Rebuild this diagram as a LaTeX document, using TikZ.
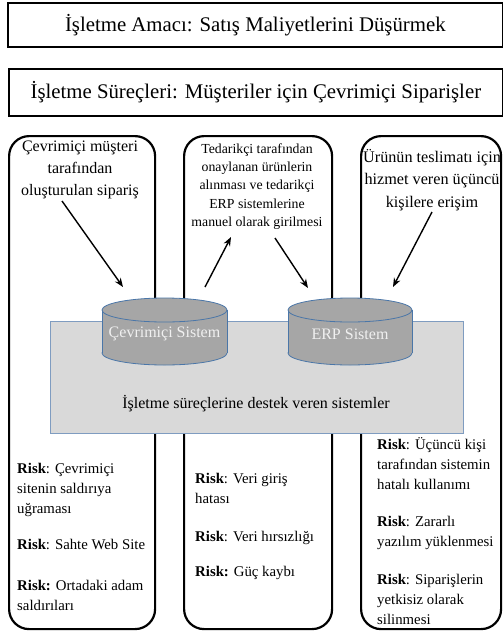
\documentclass[tikz,border=0pt]{standalone}
\usepackage{fontspec}
\setmainfont{Liberation Serif}
\usetikzlibrary{arrows.meta}
\definecolor{sysgray}{HTML}{D9D9D9}
\definecolor{sysblue}{HTML}{7F9CC0}
\definecolor{cylfill}{HTML}{A6A6A6}
\definecolor{cylblue}{HTML}{4A76A8}
\definecolor{cyltext}{HTML}{F0F0F0}
\begin{document}
\begin{tikzpicture}[x=1pt,y=-1pt,
  titlebox/.style={draw, line width=2.2pt, inner sep=0pt, anchor=north west, font=\fontsize{20.8}{24}\selectfont},
  column/.style={draw, line width=2.2pt, rounded corners=20pt, anchor=north west, minimum height=493pt, inner sep=0pt},
  support/.style={fill=sysgray, draw=sysblue, line width=0.8pt, anchor=north west, inner sep=0pt},
  cylbody/.style={fill=cylfill, draw=cylblue, line width=0.8pt},
  cyllabel/.style={text=cyltext, font=\fontsize{16}{19}\selectfont, minimum width=125pt, minimum height=65pt, inner sep=0pt},
  toptext/.style={align=center, inner sep=0pt, font=\fontsize{16}{22}\selectfont},
  smalltext/.style={align=center, inner sep=0pt, font=\fontsize{13.8}{18.3}\selectfont},
  risktext/.style={align=left, inner sep=0pt, anchor=base west, font=\fontsize{14.8}{20}\selectfont},
  arr/.style={-{Stealth[length=9pt,width=7pt]}, line width=1.4pt}
]
\useasboundingbox (0,0) rectangle (503,633);

% title boxes
\node[titlebox, minimum width=494.5pt, minimum height=44pt] (goal) at (7,2) {İşletme Amacı: Satış Maliyetlerini Düşürmek};
\node[titlebox, minimum width=493.5pt, minimum height=47pt] (process) at (8,68) {İşletme Süreçleri: Müşteriler için Çevrimiçi Siparişler};

% columns
\node[column, minimum width=146pt] (col1) at (8,135) {};
\node[column, minimum width=148pt] (col2) at (183,135) {};
\node[column, minimum width=140pt] (col3) at (360,135) {};

% supporting systems box
\node[support, minimum width=413pt, minimum height=112pt] (sys) at (50,321) {};
\node[font=\fontsize{16}{19}\selectfont, inner sep=0pt] (syslabel) at (256,404) {İşletme süreçlerine destek veren sistemler};

% cylinder 1
\filldraw[cylbody] (164.5,353) ellipse [x radius=62.5, y radius=12];
\fill[cylfill] (102,310) rectangle (227,353);
\draw[cylblue, line width=0.8pt] (102,310) -- (102,353) (227,310) -- (227,353);
\filldraw[cylbody] (164.5,310) ellipse [x radius=62.5, y radius=12];
\node[cyllabel] (cyl1) at (164.5,334) {Çevrimiçi Sistem};

% cylinder 2
\filldraw[cylbody] (350,353) ellipse [x radius=62, y radius=12];
\fill[cylfill] (288,310) rectangle (412,353);
\draw[cylblue, line width=0.8pt] (288,310) -- (288,353) (412,310) -- (412,353);
\filldraw[cylbody] (350,310) ellipse [x radius=62, y radius=12];
\node[cyllabel] (cyl2) at (350,334) {ERP Sistem};

% top texts
\node[toptext] (t1) at (80,170) {Çevrimiçi müşteri\\tarafından\\oluşturulan sipariş};
\node[smalltext] (t2) at (257,186.5) {Tedarikçi tarafından\\onaylanan ürünlerin\\alınması ve tedarikçi\\ERP sistemlerine\\manuel olarak girilmesi};
\node[toptext, font=\fontsize{16.2}{22.5}\selectfont] (t3) at (432,180) {Ürünün teslimatı için\\hizmet veren üçüncü\\kişilere erişim};

% arrow end points
\coordinate (a1s) at (62,201);
\coordinate (a1e) at (123,287);
\coordinate (a2s) at (205,287);
\coordinate (a2e) at (231,237);
\coordinate (a3s) at (275,238);
\coordinate (a3e) at (308,288);
\coordinate (a4s) at (432,212);
\coordinate (a4e) at (393,287);
\draw[arr] (a1s) -- (a1e);
\draw[arr] (a2s) -- (a2e);
\draw[arr] (a3s) -- (a3e);
\draw[arr] (a4s) -- (a4e);

% risks
\node[risktext] (r1) at (17,610.5) {\textbf{Risk}: Çevrimiçi\\sitenin saldırıya\\uğraması\\[16pt]\textbf{Risk}: Sahte Web Site\\[21pt]\textbf{Risk:} Ortadaki adam\\saldırıları};
\node[risktext] (r2) at (195,576.5) {\textbf{Risk}: Veri giriş\\hatası\\[18pt]\textbf{Risk}: Veri hırsızlığı\\[15pt]\textbf{Risk:} Güç kaybı};
\node[risktext] (r3) at (377,624.5) {\textbf{Risk}: Üçüncü kişi\\tarafından sistemin\\hatalı kullanımı\\[17pt]\textbf{Risk}: Zararlı\\yazılım yüklenmesi\\[18pt]\textbf{Risk}: Siparişlerin\\yetkisiz olarak\\silinmesi};
\end{tikzpicture}
\end{document}
